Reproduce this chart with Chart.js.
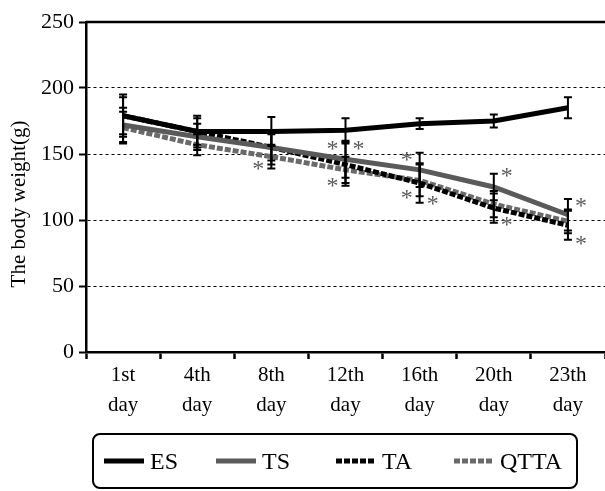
<!DOCTYPE html>
<html>
<head>
<meta charset="utf-8">
<script src="https://cdn.jsdelivr.net/npm/chart.js@4"></script>
<style>
  html, body { margin: 0; padding: 0; background: #fff; }
  #wrap { position: relative; width: 605px; height: 491px; }
  #legend {
    position: absolute; left: 92px; top: 433px; width: 482px; height: 52px;
    border: 2px solid #000; border-radius: 8px;
    font-family: 'Liberation Serif', serif; font-size: 24px; color: #000;
  }
  .item { position: absolute; top: 0; height: 52px; display: flex; align-items: center; }
  .item svg { margin-right: 4px; }
</style>
</head>
<body>
<div id="wrap">
  <canvas id="mainChart" width="605" height="491"></canvas>
  <div id="legend"></div>
</div>
<script>
// ─── DATA ──────────────────────────────────
const days = [['1st', 'day'], ['4th', 'day'], ['8th', 'day'], ['12th', 'day'], ['16th', 'day'], ['20th', 'day'], ['23th', 'day']];
const yTicks = [0, 50, 100, 150, 200, 250];
const yTitle = 'The body weight(g)';

const esVals   = [179, 167, 167, 168, 173, 175, 185];
const esErr    = [16, 10, 11, 9, 4, 5, 8];
const tsVals   = [172, 163, 155, 146, 138, 125, 104];
const tsErr    = [13, 10, 10, 14, 13, 10, 12];
const taVals   = [179, 167, 155, 142, 128, 109, 96];
const taErr    = [14, 12, 13, 16, 15, 11, 11];
const qttaVals = [170, 157, 148, 138, 130, 112, 99];
const qttaErr  = [12, 8, 9, 10, 12, 10, 9];

// significance marks: day index, value, side (-1 left / 1 right)
const starDay  = [2, 3, 3, 3, 4, 4, 4, 5, 5, 6, 6];
const starVal  = [143, 158, 158, 130, 150, 121, 117, 138, 101, 115, 86];
const starSide = [-1, -1, 1, -1, -1, -1, 1, 1, 1, 1, 1];

const FONT = "'Liberation Serif', 'Times New Roman', serif";
const GRAY1 = '#5a5a5a';
const GRAY2 = '#6a6a6a';

const series = [
  { label: 'ES',   data: esVals,   err: esErr,   color: '#000', dash: [] },
  { label: 'TS',   data: tsVals,   err: tsErr,   color: GRAY1,  dash: [] },
  { label: 'TA',   data: taVals,   err: taErr,   color: '#000', dash: [6, 2] },
  { label: 'QTTA', data: qttaVals, err: qttaErr, color: GRAY2,  dash: [6, 2] },
];

// ─── PLUGIN: error bars, stars, frame, y title ──
const extras = {
  id: 'extras',
  afterDatasetsDraw(chart) {
    const { ctx, chartArea, scales: { x, y } } = chart;
    ctx.save();
    ctx.strokeStyle = '#000';
    ctx.lineWidth = 2;
    ctx.setLineDash([]);
    series.forEach(s => {
      s.data.forEach((v, i) => {
        const px = x.getPixelForValue(i);
        const top = y.getPixelForValue(v + s.err[i]);
        const bot = y.getPixelForValue(v - s.err[i]);
        ctx.beginPath();
        ctx.moveTo(px, top); ctx.lineTo(px, bot);
        ctx.moveTo(px - 4, top); ctx.lineTo(px + 4, top);
        ctx.moveTo(px - 4, bot); ctx.lineTo(px + 4, bot);
        ctx.stroke();
      });
    });

    ctx.fillStyle = GRAY1;
    ctx.font = '24px ' + FONT;
    ctx.textAlign = 'center';
    ctx.textBaseline = 'alphabetic';
    starDay.forEach((d, i) => {
      const px = x.getPixelForValue(d) + starSide[i] * 13;
      const py = y.getPixelForValue(starVal[i]) + 13;
      ctx.fillText('*', px, py);
    });

    ctx.strokeStyle = '#000';
    ctx.lineWidth = 2.5;
    ctx.beginPath();
    ctx.moveTo(chartArea.left, chartArea.top);
    ctx.lineTo(chartArea.right, chartArea.top);
    ctx.stroke();

    // axis title sits a bit below the plot centre in the original
    ctx.fillStyle = '#000';
    ctx.font = '21px ' + FONT;
    ctx.textBaseline = 'middle';
    ctx.translate(19, (chartArea.top + chartArea.bottom) / 2 + 17);
    ctx.rotate(-Math.PI / 2);
    ctx.fillText(yTitle, 0, 0);
    ctx.restore();
  }
};

// ─── CHART ─────────────────────────────────
const chart = new Chart(document.getElementById('mainChart').getContext('2d'), {
  type: 'line',
  data: {
    labels: days,
    datasets: series.map(s => ({
      label: s.label,
      data: s.data,
      borderColor: s.color,
      backgroundColor: s.color,
      borderWidth: 5,
      borderDash: s.dash,
      pointRadius: 0,
      tension: 0,
      fill: false,
    }))
  },
  options: {
    responsive: false,
    animation: false,
    layout: { padding: { top: 22, right: 0, bottom: 69, left: 0 } },
    plugins: { legend: { display: false }, tooltip: { enabled: false } },
    scales: {
      x: {
        offset: true,
        grid: { display: true, offset: true, drawOnChartArea: false, tickLength: 7, tickColor: '#000', tickWidth: 2.5 },
        border: { color: '#000', width: 2.5 },
        ticks: { color: '#000', font: { family: FONT, size: 21, lineHeight: 1.45 }, padding: 1, maxRotation: 0, autoSkip: false },
        afterFit(scale) { scale.height = 70; }
      },
      y: {
        min: 0, max: 250,
        afterBuildTicks(scale) { scale.ticks = yTicks.map(v => ({ value: v })); },
        grid: {
          color: c => (c.tick && (c.tick.value === 0 || c.tick.value === 250)) ? 'rgba(0,0,0,0)' : '#000',
          lineWidth: 1,
          tickLength: 7, tickColor: '#000', tickWidth: 2, tickBorderDash: []
        },
        border: { color: '#000', width: 2.5, dash: [3, 3] },
        ticks: { color: '#000', font: { family: FONT, size: 22 }, padding: 5 },
        afterFit(scale) { scale.width = 86; }
      }
    }
  },
  plugins: [extras]
});

// ─── LEGEND ────────────────────────────────
const legendPos = [10, 122, 242, 360];
document.getElementById('legend').innerHTML = series.map((s, i) => `
  <div class="item" style="left:${legendPos[i]}px">
    <svg width="42" height="8"><line x1="0" y1="4" x2="40" y2="4" stroke="${s.color}" stroke-width="5"
      stroke-dasharray="${s.dash.join(' ')}"/></svg>
    <span>${s.label}</span>
  </div>`).join('');
</script>
</body>
</html>
